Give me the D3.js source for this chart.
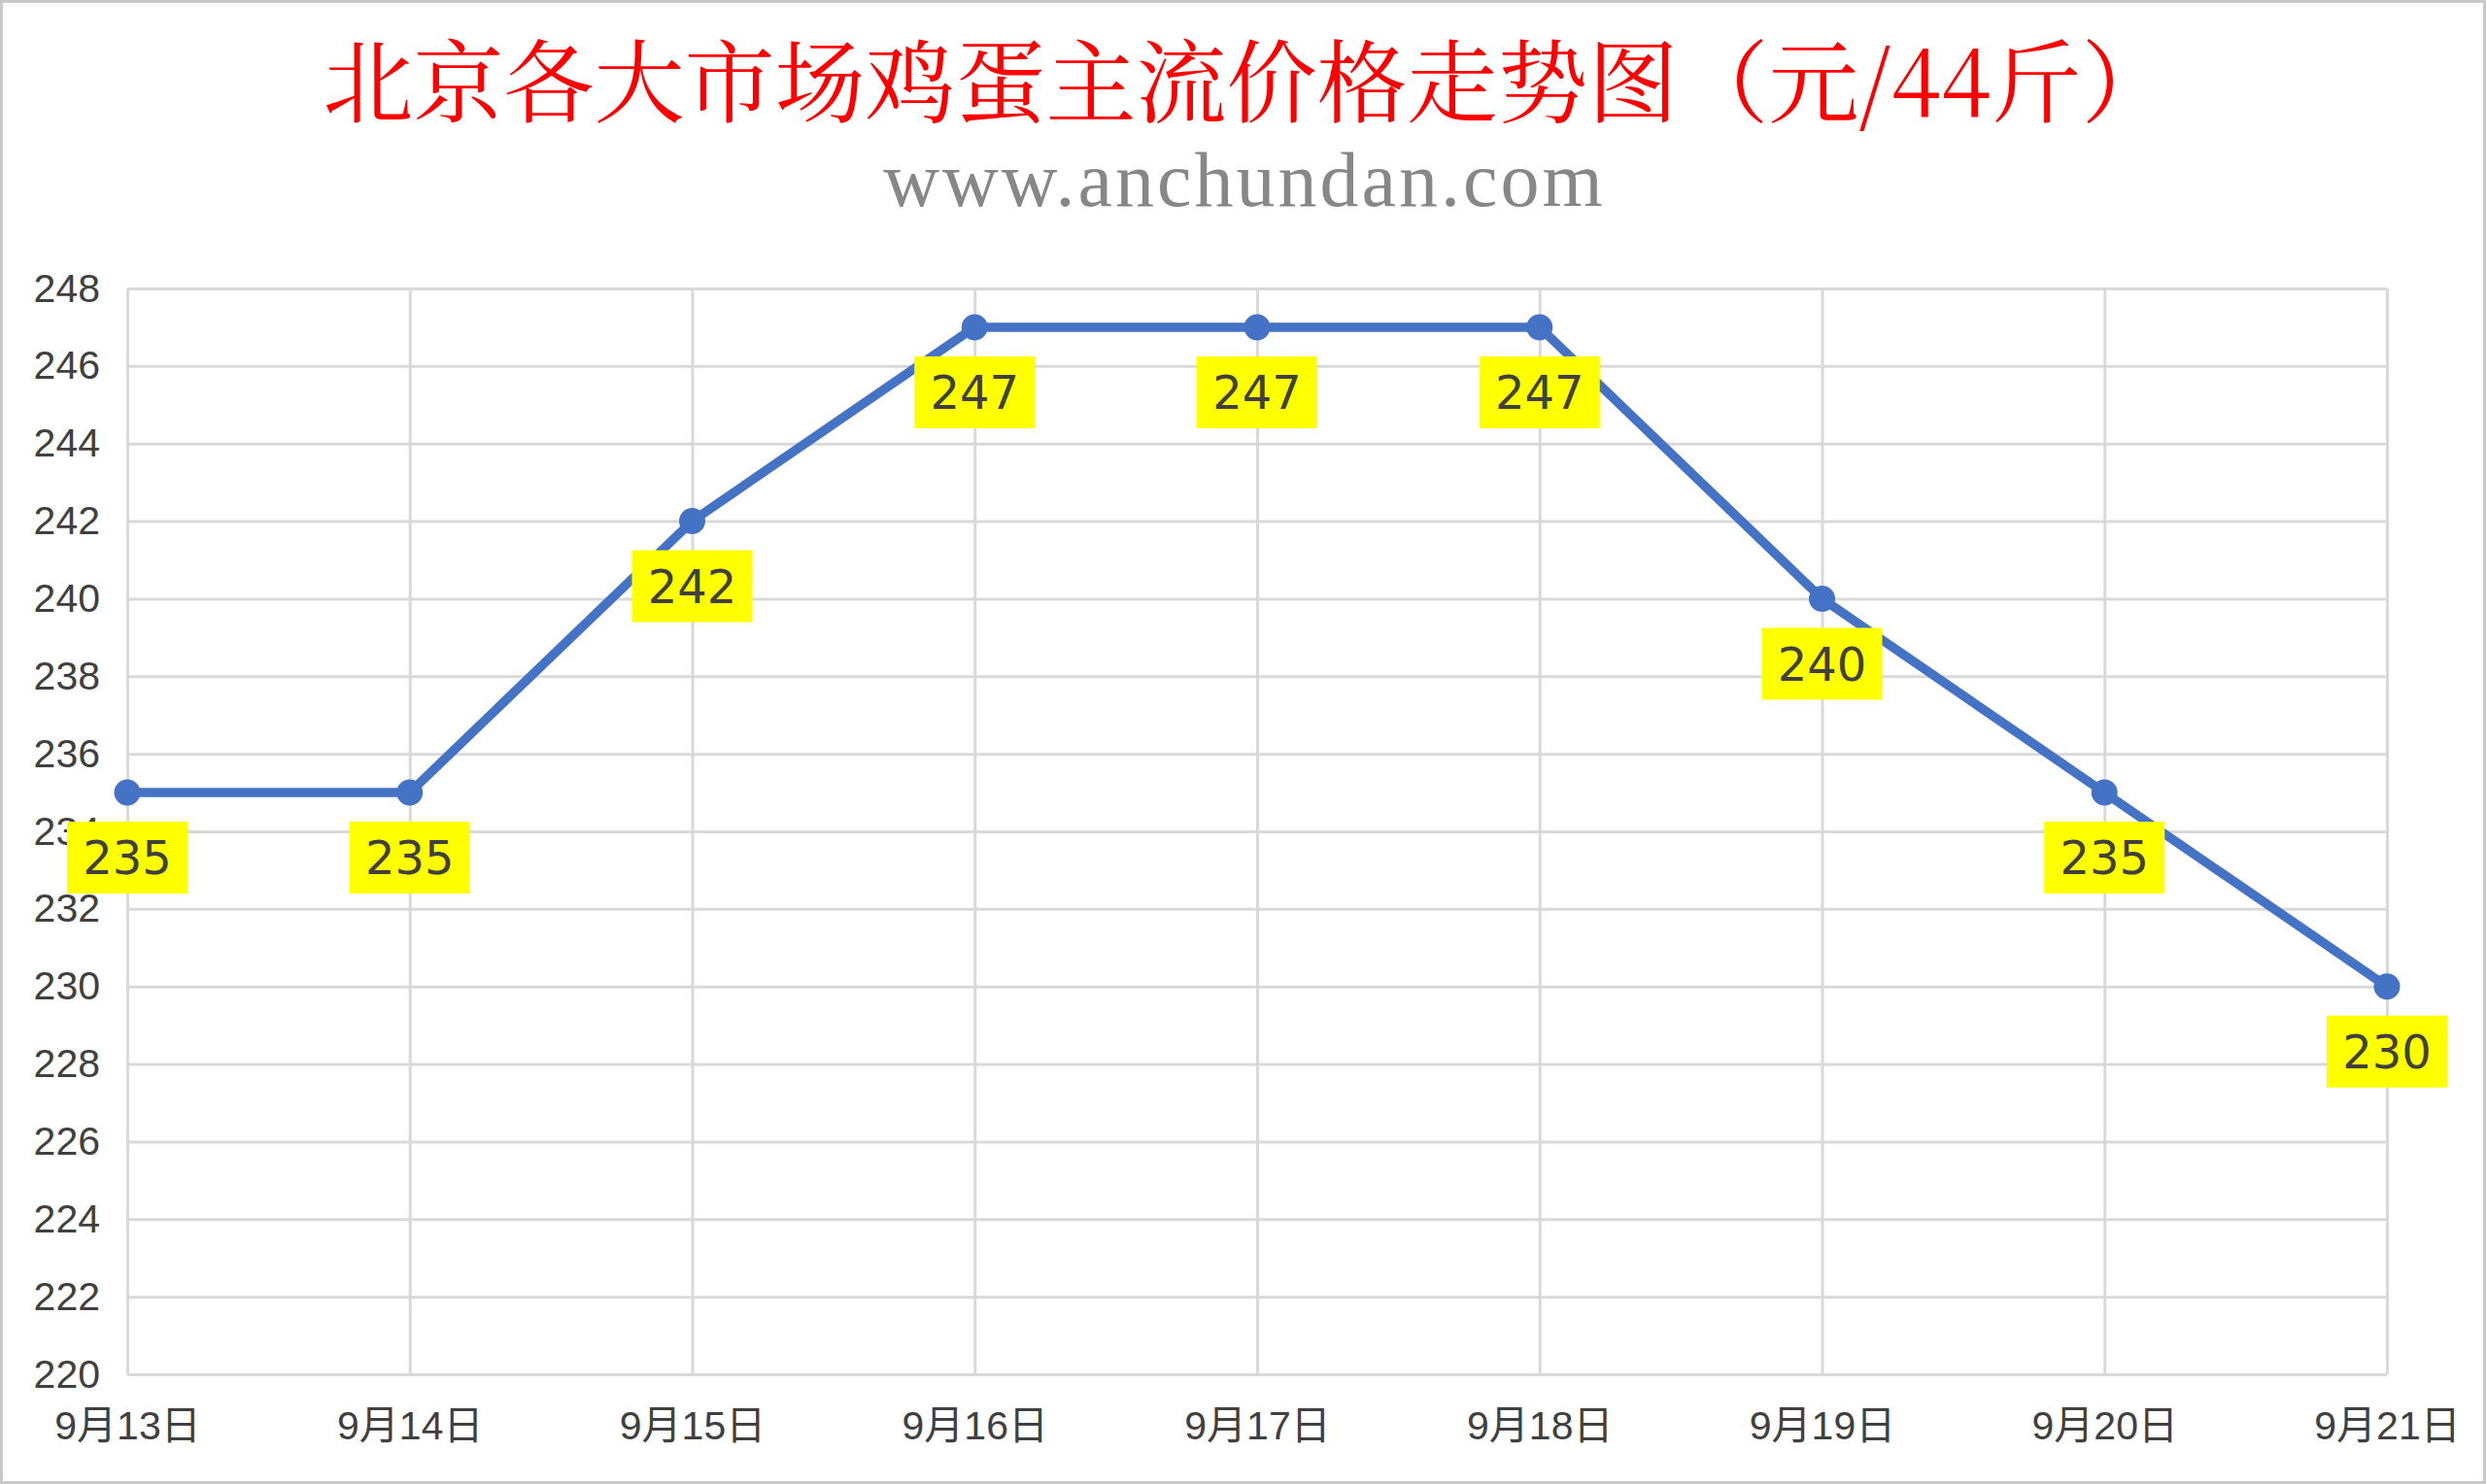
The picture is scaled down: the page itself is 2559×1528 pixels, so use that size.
<!DOCTYPE html>
<meta charset="utf-8">
<style>
body { margin: 0; background: #fff; }
.grid line { stroke: #d9d9d9; stroke-width: 3px; }
.grid .domain { display: none; }
.axis text { fill: #404040; font-family: "Liberation Sans", Arial, "Noto Sans CJK SC", sans-serif; font-size: 41px; }
</style>
<svg width="2559" height="1528"></svg>
<script src="https://d3js.org/d3.v7.min.js"></script>
<script>
// dates and prices
const dates = ["9月13日", "9月14日", "9月15日", "9月16日", "9月17日", "9月18日", "9月19日", "9月20日", "9月21日"];
const prices = [235, 235, 242, 247, 247, 247, 240, 235, 230];
const yTicks = [220, 222, 224, 226, 228, 230, 232, 234, 236, 238, 240, 242, 244, 246, 248];

const titleText = "北京各大市场鸡蛋主流价格走势图（元/44斤）";
const subText = "www.anchundan.com";

const svg = d3.select("svg"),
  width = +svg.attr("width"),
  height = +svg.attr("height");

const plot = {left: 131, right: 2457, top: 297, bottom: 1415};

// frame
svg.append("rect")
  .attr("x", 1.5).attr("y", 1.5)
  .attr("width", width - 3).attr("height", height - 3)
  .attr("fill", "#fff")
  .attr("stroke", "#c8c8c8")
  .attr("stroke-width", 3);

const x = d3.scalePoint().domain(dates).range([plot.left, plot.right]).padding(0);
const y = d3.scaleLinear().domain([220, 248]).range([plot.bottom, plot.top]);

// y grid + labels
svg.append("g")
  .attr("class", "grid axis")
  .attr("transform", "translate(" + plot.left + ",0)")
  .call(d3.axisLeft(y).tickValues(yTicks).tickSize(-(plot.right - plot.left)).tickPadding(28))
  .selectAll("text").attr("dy", "0.32em");

// x grid + labels
svg.append("g")
  .attr("class", "grid axis")
  .attr("transform", "translate(0," + plot.bottom + ")")
  .call(d3.axisBottom(x).tickSize(-(plot.bottom - plot.top)).tickPadding(38));

// line
const line = d3.line()
  .x(function(d, i) { return x(dates[i]); })
  .y(function(d) { return y(d); });

svg.append("path")
  .datum(prices)
  .attr("d", line)
  .attr("fill", "none")
  .attr("stroke", "#4472c4")
  .attr("stroke-width", 9.5)
  .attr("stroke-linejoin", "round");

svg.append("g")
  .selectAll("circle")
  .data(prices)
  .enter()
  .append("circle")
  .attr("cx", function(d, i) { return x(dates[i]); })
  .attr("cy", function(d) { return y(d); })
  .attr("r", 13.5)
  .attr("fill", "#4472c4");

// data labels in yellow boxes
const labels = svg.append("g")
  .selectAll("g")
  .data(prices)
  .enter()
  .append("g")
  .attr("transform", function(d, i) { return "translate(" + x(dates[i]) + "," + (y(d) + 67) + ")"; });

labels.append("rect")
  .attr("x", -62).attr("y", -37)
  .attr("width", 124).attr("height", 74)
  .attr("fill", "#ffff00");

labels.append("text")
  .attr("text-anchor", "middle")
  .attr("dy", "0.36em")
  .attr("fill", "#404040")
  .style("font-family", "'DejaVu Sans', sans-serif")
  .style("font-size", "48px")
  .text(function(d) { return d; });

// titles
svg.append("text")
  .attr("x", 1284).attr("y", 119)
  .attr("text-anchor", "middle")
  .attr("fill", "#ff0000")
  .style("font-family", "'Noto Serif CJK SC', 'Noto Sans CJK SC', serif")
  .style("font-size", "93px")
  .text(titleText);

svg.append("text")
  .attr("x", 1281).attr("y", 212)
  .attr("text-anchor", "middle")
  .attr("fill", "#878787")
  .style("font-family", "'Liberation Serif', 'Times New Roman', serif")
  .style("font-size", "80px")
  .style("letter-spacing", "3px")
  .text(subText);
</script>
